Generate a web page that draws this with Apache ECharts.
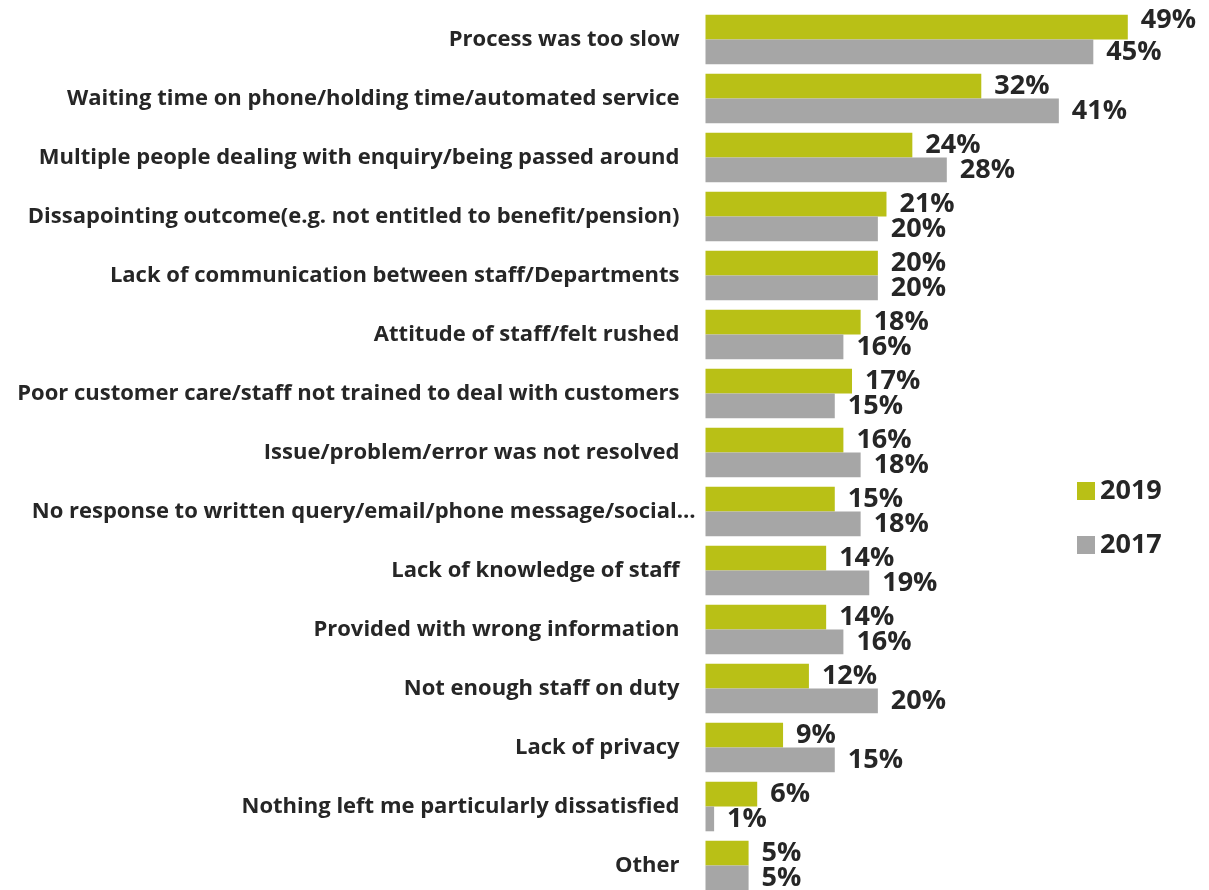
<!DOCTYPE html>
<html>
<head>
<meta charset="utf-8">
<title>Reasons for dissatisfaction</title>
<script src="https://cdn.jsdelivr.net/npm/echarts@6/dist/echarts.min.js"></script>
<style>
  html, body { margin: 0; padding: 0; background: #ffffff; overflow: hidden; }
  #chart { width: 1209px; height: 900px; }
</style>
</head>
<body>
<div id="chart"></div>
<script>
// Reasons for dissatisfaction, share of respondents (%)
const categories = [
  'Process was too slow',
  'Waiting time on phone/holding time/automated service',
  'Multiple people dealing with enquiry/being passed around',
  'Dissapointing outcome(e.g. not entitled to benefit/pension)',
  'Lack of communication between staff/Departments',
  'Attitude of staff/felt rushed',
  'Poor customer care/staff not trained to deal with customers',
  'Issue/problem/error was not resolved',
  'No response to written query/email/phone message/social…',
  'Lack of knowledge of staff',
  'Provided with wrong information',
  'Not enough staff on duty',
  'Lack of privacy',
  'Nothing left me particularly dissatisfied',
  'Other'
];
const values2019 = [49, 32, 24, 21, 20, 18, 17, 16, 15, 14, 14, 12, 9, 6, 5];
const values2017 = [45, 41, 28, 20, 20, 16, 15, 18, 18, 19, 16, 20, 15, 1, 5];

const GREEN = '#b9c016';
const GREY = '#a6a6a6';
const TEXT = '#262626';
const FONT = '"Open Sans"';

const chart = echarts.init(document.getElementById('chart'), null, { renderer: 'canvas' });

const valueLabel = {
  show: true,
  position: 'right',
  distance: 13,
  formatter: '{c}%',
  color: TEXT,
  fontFamily: FONT,
  fontWeight: 'bold',
  fontSize: 27
};

// the top 2019 label sits slightly raised above its bar
const data2019 = values2019.map((v, i) =>
  i === 0 ? { value: v, label: { offset: [0, -7] } } : v
);

// the truncated label runs a little closer to the bars than the others
const categoryItems = categories.map(c =>
  c.endsWith('…') ? { value: c, textStyle: { padding: [0, -16, 0, 0] } } : c
);

chart.setOption({
  animation: false,
  backgroundColor: '#ffffff',
  legend: {
    data: ['2019', '2017'],
    orient: 'vertical',
    left: 1072,
    top: 472,
    itemWidth: 18,
    itemHeight: 18,
    itemGap: 26,
    icon: 'rect',
    textStyle: {
      color: TEXT,
      fontFamily: FONT,
      fontWeight: 'bold',
      fontSize: 27,
      lineHeight: 28,
      padding: [0, 0, 0, 0]
    }
  },
  grid: {
    left: 705.5,
    top: 10,
    height: 885,
    width: 474,
    containLabel: false
  },
  xAxis: {
    type: 'value',
    min: 0,
    max: 55,
    show: false
  },
  yAxis: {
    type: 'category',
    data: categoryItems,
    inverse: true,
    axisLine: { show: false },
    axisTick: { show: false },
    axisLabel: {
      margin: 26,
      color: TEXT,
      fontFamily: FONT,
      fontWeight: 'bold',
      fontSize: 22
    }
  },
  series: [
    {
      name: '2019',
      type: 'bar',
      data: data2019,
      itemStyle: { color: GREEN },
      barGap: '0%',
      barCategoryGap: '16%',
      label: valueLabel
    },
    {
      name: '2017',
      type: 'bar',
      data: values2017,
      itemStyle: { color: GREY },
      barGap: '0%',
      barCategoryGap: '16%',
      label: valueLabel
    }
  ]
});
</script>
</body>
</html>
